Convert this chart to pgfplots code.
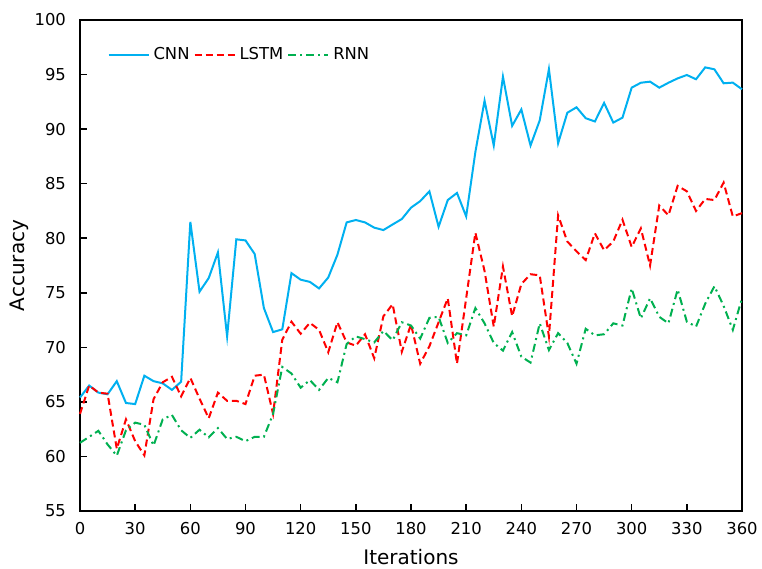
\documentclass[border=0pt]{standalone}
\usepackage{pgfplots}
\pgfplotsset{compat=1.18}
\usepackage{fontspec}
\setmainfont{DejaVu Sans}
\definecolor{cnnc}{RGB}{0,176,240}
\definecolor{lstmc}{RGB}{255,0,0}
\definecolor{rnnc}{RGB}{0,176,80}
\newcommand{\fs}{\fontsize{8.2}{9.8}\selectfont}
\begin{document}
\begin{tikzpicture}
\begin{axis}[
  scale only axis, width=331pt, height=245.5pt,
  xmin=0, xmax=360, ymin=55, ymax=100,
  xtick={0,30,...,360}, ytick={55,60,...,100},
  tick align=inside, xtick pos=bottom, ytick pos=left,
  major tick length=3.5pt,
  axis line style={line width=0.8pt},
  tick style={black, line width=0.8pt},
  /pgf/number format/assume math mode=true,
  tick label style={font=\fs},
  yticklabel style={xshift=-3.5pt},
  xticklabel style={yshift=-2pt},
  xlabel={Iterations}, ylabel={Accuracy},
  label style={font=\fs},
  every axis y label/.style={at={(axis description cs:-0.0921,0.5)}, rotate=90, anchor=center},
  every axis x label/.style={at={(axis description cs:0.5,-0.0937)}, anchor=center},
  legend columns=3,
  legend style={draw=none, fill=none, at={(axis description cs:0.041,0.929)}, anchor=west, inner sep=0pt, font=\fs,
    /tikz/every even column/.append style={column sep=0pt}},
  legend image code/.code={\draw[#1] (0pt,0pt) -- (20pt,0pt);},
  clip=false,
]
\coordinate (bl) at (rel axis cs:0,0);
\coordinate (tr) at (rel axis cs:1,1);
\addplot[cnnc, line width=1pt] coordinates {
(0,65.4) (5,66.5) (10,65.85) (15,65.7) (20,66.9) (25,64.9) (30,64.8) (35,67.4) (40,66.9) (45,66.7)
(50,66.1) (55,66.85) (60,81.5) (65,75.1) (70,76.35) (75,78.7) (80,71.0) (85,79.9) (90,79.8) (95,78.55)
(100,73.6) (105,71.4) (110,71.65) (115,76.8) (120,76.2) (125,76.0) (130,75.4) (135,76.4) (140,78.5) (145,81.45)
(150,81.67) (155,81.45) (160,80.97) (165,80.75) (170,81.26) (175,81.76) (180,82.8) (185,83.4) (190,84.3) (195,81.05)
(200,83.5) (205,84.15) (210,82.0) (215,87.9) (220,92.6) (225,88.5) (230,94.8) (235,90.3) (240,91.8) (245,88.5)
(250,90.8) (255,95.5) (260,88.7) (265,91.5) (270,92.0) (275,91.0) (280,90.7) (285,92.4) (290,90.6) (295,91.05)
(300,93.8) (305,94.25) (310,94.35) (315,93.8) (320,94.25) (325,94.65) (330,94.96) (335,94.57) (340,95.66) (345,95.48)
(350,94.2) (355,94.26) (360,93.65)
};
\addlegendentry{CNN}
\addplot[lstmc, line width=1pt, dash pattern=on 3.5pt off 2pt] coordinates {
(0,63.9) (5,66.5) (10,65.85) (15,65.75) (20,60.7) (25,63.4) (30,61.4) (35,60.1) (40,65.25) (45,66.8)
(50,67.3) (55,65.5) (60,67.2) (65,65.3) (70,63.5) (75,65.85) (80,65.1) (85,65.1) (90,64.8) (95,67.4)
(100,67.5) (105,63.9) (110,70.7) (115,72.35) (120,71.25) (125,72.25) (130,71.6) (135,69.55) (140,72.3) (145,70.45)
(150,70.15) (155,71.2) (160,69.0) (165,72.85) (170,73.95) (175,69.6) (180,72.1) (185,68.5) (190,70.1) (195,72.3)
(200,74.5) (205,68.5) (210,74.5) (215,80.5) (220,77.0) (225,71.9) (230,77.4) (235,72.85) (240,75.8) (245,76.7)
(250,76.6) (255,71.0) (260,82.1) (265,79.7) (270,78.8) (275,78.0) (280,80.45) (285,78.9) (290,79.7) (295,81.7)
(300,79.2) (305,80.9) (310,77.5) (315,83.0) (320,82.1) (325,84.8) (330,84.3) (335,82.5) (340,83.6) (345,83.5)
(350,85.1) (355,82.0) (360,82.3)
};
\addlegendentry{LSTM}
\addplot[rnnc, line width=1pt, dash pattern=on 4pt off 2pt on 1pt off 2pt] coordinates {
(0,61.25) (5,61.8) (10,62.35) (15,61.1) (20,60.07) (25,62.4) (30,63.1) (35,62.9) (40,61.0) (45,63.4)
(50,63.8) (55,62.4) (60,61.7) (65,62.45) (70,61.75) (75,62.6) (80,61.6) (85,61.8) (90,61.4) (95,61.8)
(100,61.8) (105,63.9) (110,68.2) (115,67.6) (120,66.3) (125,67.0) (130,66.1) (135,67.2) (140,66.8) (145,70.3)
(150,71.0) (155,70.75) (160,70.45) (165,71.5) (170,70.65) (175,72.3) (180,72.0) (185,70.8) (190,72.7) (195,72.8)
(200,70.4) (205,71.3) (210,71.1) (215,73.6) (220,72.2) (225,70.4) (230,69.7) (235,71.4) (240,69.15) (245,68.6)
(250,72.2) (255,69.75) (260,71.3) (265,70.4) (270,68.5) (275,71.7) (280,71.1) (285,71.2) (290,72.2) (295,72.0)
(300,75.4) (305,72.65) (310,74.5) (315,72.8) (320,72.2) (325,75.3) (330,72.35) (335,71.9) (340,74.0) (345,75.6)
(350,73.8) (355,71.6) (360,74.5)
};
\addlegendentry{RNN}
\end{axis}
\pgfresetboundingbox
\path ([shift={(-40pt,-28.5pt)}]bl) rectangle ([shift={(10pt,10pt)}]tr);
\end{tikzpicture}
\end{document}
